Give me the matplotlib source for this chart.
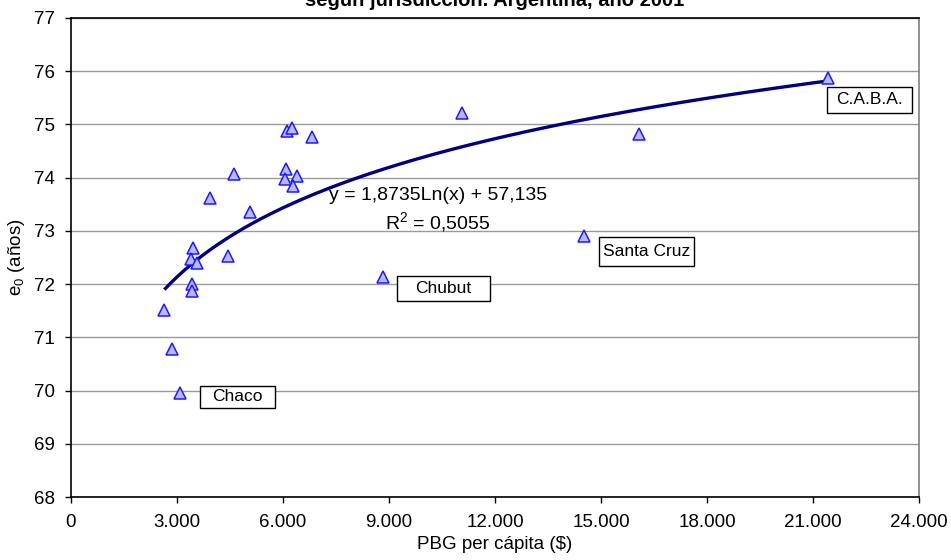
import numpy as np
import matplotlib
matplotlib.use("Agg")
import matplotlib.pyplot as plt
from matplotlib.patches import Rectangle

plt.rcParams["font.family"] = ["Liberation Sans", "DejaVu Sans"]
plt.rcParams["mathtext.fontset"] = "custom"
plt.rcParams["mathtext.rm"] = "Liberation Sans"
plt.rcParams["mathtext.it"] = "Liberation Sans"

# PBG per cápita ($) y esperanza de vida al nacer por jurisdicción, 2001
pbg = [6105, 6264, 6813, 6094, 6388, 6057, 6275, 4605, 3943, 5066,
       3453, 3388, 3558, 4435, 3425, 3416, 2641, 2850, 3077, 11067,
       16069, 14512, 8839, 21426]
e0 = [74.88, 74.94, 74.76, 74.16, 74.04, 73.98, 73.84, 74.06, 73.61, 73.36,
      72.68, 72.48, 72.39, 72.52, 72.01, 71.87, 71.52, 70.79, 69.96, 75.21,
      74.82, 72.91, 72.14, 75.88]

# tendencia logarítmica
coef_a = 1.8735
coef_b = 57.135
r2 = 0.5055

x_ticks = list(range(0, 24001, 3000))
y_ticks = list(range(68, 78))

# etiquetas: nombre, centro de la caja (datos), ancho y alto de la caja (px)
labels = [
    ("Chaco", 4713, 69.88, 75, 22),
    ("Chubut", 10543, 71.92, 93, 25),
    ("Santa Cruz", 16289, 72.61, 95, 29),
    ("C.A.B.A.", 22601, 75.46, 85, 26),
]


def fmt_miles(v):
    return f"{int(v):,}".replace(",", ".")


fig = plt.figure(figsize=(9.51, 5.60), dpi=100)
ax = fig.add_axes([71 / 951, 1 - 497 / 560, 848 / 951, 479 / 560])

ax.set_xlim(0, 24000)
ax.set_ylim(68, 77)
ax.set_xticks(x_ticks)
ax.set_xticklabels([fmt_miles(v) for v in x_ticks])
ax.set_yticks(y_ticks)
ax.yaxis.grid(True, color="#9a9a9a", linewidth=1.0)
ax.xaxis.grid(False)
ax.set_axisbelow(True)
ax.tick_params(axis="both", direction="out", length=4.5, width=1.0,
               labelsize=13.5, color="#000000")
ax.tick_params(axis="y", pad=7)
ax.tick_params(axis="x", pad=8)
for side in ("left", "bottom", "top"):
    ax.spines[side].set_color("#000000")
    ax.spines[side].set_linewidth(1.2)
ax.spines["right"].set_color("#808080")
ax.spines["right"].set_linewidth(1.2)

# curva de tendencia
xs = np.linspace(min(pbg), max(pbg), 300)
ax.plot(xs, coef_a * np.log(xs) + coef_b, color="#000080", linewidth=2.4,
        zorder=3, solid_capstyle="butt")

ax.plot(pbg, e0, linestyle="none", marker="^", markersize=9,
        markerfacecolor="#b9b9f7", markeredgecolor="#1a1aff",
        markeredgewidth=1.1, zorder=4)

ax.text(10388, 73.66, f"y = {coef_a:.4f}Ln(x) + {coef_b:.3f}".replace(".", ","),
        ha="center", va="center", fontsize=14, zorder=5)
ax.text(10388, 73.17, r"R$^{\mathregular{2}}$ = " + f"{r2:.4f}".replace(".", ","),
        ha="center", va="center", fontsize=14, zorder=5)

px_x = 24000 / 848
px_y = 9 / 479
for name, lx, ly, w, h in labels:
    ax.add_patch(Rectangle((lx - w * px_x / 2, ly - h * px_y / 2), w * px_x, h * px_y,
                           facecolor="white", edgecolor="#000000", linewidth=1.0,
                           zorder=5))
    ax.text(lx, ly, name, ha="center", va="center", fontsize=12.5, zorder=6)

ax.set_xlabel("PBG per cápita ($)", fontsize=13.5, labelpad=3)
ax.set_ylabel(r"e$_{\mathregular{0}}$ (años)", fontsize=13.5, labelpad=5)

fig.text(495 / 951, 1 - 6 / 560, "según jurisdicción. Argentina, año 2001",
         ha="center", va="baseline", fontsize=14.5, fontweight="bold")

fig.savefig("out.png", dpi=100, facecolor="white")
